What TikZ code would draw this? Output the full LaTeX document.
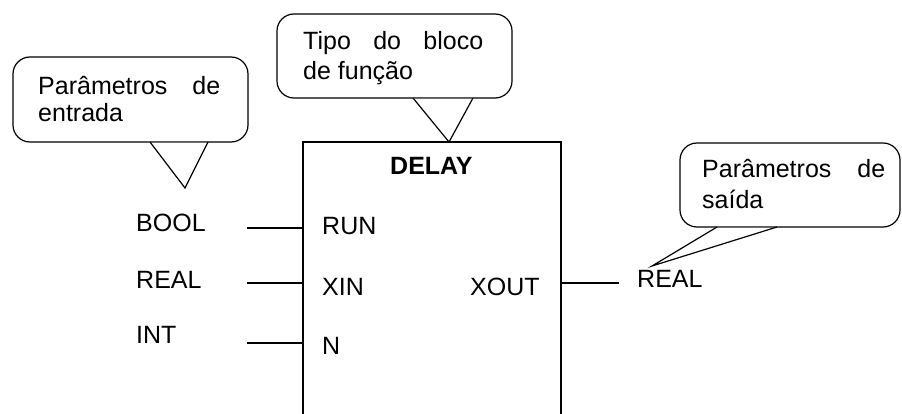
\documentclass[tikz,border=0pt]{standalone}
\usepackage{fontspec}
\setmainfont{Liberation Sans}
\begin{document}
\begin{tikzpicture}[x=1pt,y=-1pt,
  lbl/.style={inner sep=0pt,anchor=base west,font=\fontsize{25}{28}\selectfont},
  lblr/.style={lbl,anchor=base east},
  blockline/.style={line width=1.3pt,line join=miter},
  wire/.style={line width=1.2pt},
  bubble/.style={line width=1.2pt,rounded corners=17pt,fill=white},
  tailfill/.style={fill=white,draw=none},
  tailline/.style={line width=1.2pt,line join=miter}]
\useasboundingbox (0,0) rectangle (902,414);

% function block, open at the bottom
\coordinate (bTL) at (303,142);
\coordinate (bTR) at (561,142);
\draw[blockline] (303,420) -- (bTL) -- (bTR) -- (561,420);
\node[lbl,font=\fontsize{25}{28}\selectfont\bfseries] (delay) at (390,175) {DELAY};

% formal parameters inside the block
\node[lbl] (run)  at (322,235) {RUN};
\node[lbl] (xin)  at (322,295) {XIN};
\node[lbl] (nn)   at (322,354) {N};
\node[lbl] (xout) at (470,295) {XOUT};

% data types
\node[lbl] (tbool) at (136,232) {BOOL};
\node[lbl] (treal) at (136,288) {REAL};
\node[lbl] (tint)  at (136,343) {INT};
\node[lbl] (treal2) at (637,287) {REAL};

% pin wires
\coordinate (w1a) at (247,228); \coordinate (w1b) at (303,228);
\coordinate (w2a) at (247,283); \coordinate (w2b) at (303,283);
\coordinate (w3a) at (247,343); \coordinate (w3b) at (303,343);
\coordinate (woa) at (561,283); \coordinate (wob) at (619,283);
\draw[wire] (w1a) -- (w1b);
\draw[wire] (w2a) -- (w2b);
\draw[wire] (w3a) -- (w3b);
\draw[wire] (woa) -- (wob);

% callout: input parameters
\draw[bubble] (13,57) rectangle (248,142);
\coordinate (t1a) at (150,142); \coordinate (t1b) at (208,142); \coordinate (t1tip) at (185,188);
\fill[tailfill] ([xshift=1pt,yshift=-1pt]t1a) -- ([xshift=-1pt,yshift=-1pt]t1b) -- (t1tip) -- cycle;
\draw[tailline] (t1a) -- (t1tip) -- (t1b);
\node[lbl] (c1a) at (38,95) {\makebox[182pt][s]{Parâmetros de}};
\node[lbl] (c1b) at (38,122) {entrada};

% callout: function block type
\draw[bubble] (277,14) rectangle (512,98);
\coordinate (t2a) at (413,98); \coordinate (t2b) at (473,98); \coordinate (t2tip) at (449,142);
\fill[tailfill] ([xshift=1pt,yshift=-1pt]t2a) -- ([xshift=-1pt,yshift=-1pt]t2b) -- (t2tip) -- cycle;
\draw[tailline] (t2a) -- (t2tip) -- (t2b);
\node[lbl] (c2a) at (303,50) {\makebox[180pt][s]{Tipo do bloco}};
\node[lbl] (c2b) at (303,80) {de função};

% callout: output parameters
\draw[bubble] (680,143) rectangle (900,227);
\coordinate (t3a) at (717,227); \coordinate (t3b) at (777,227); \coordinate (t3tip) at (652,266);
\fill[tailfill] ([xshift=1pt,yshift=-1pt]t3a) -- ([xshift=-1pt,yshift=-1pt]t3b) -- (t3tip) -- cycle;
\draw[tailline] (t3a) -- (t3tip) -- (t3b);
\node[lbl] (c3a) at (702,178) {\makebox[183pt][s]{Parâmetros de}};
\node[lbl] (c3b) at (702,208) {saída};
\end{tikzpicture}
\end{document}
